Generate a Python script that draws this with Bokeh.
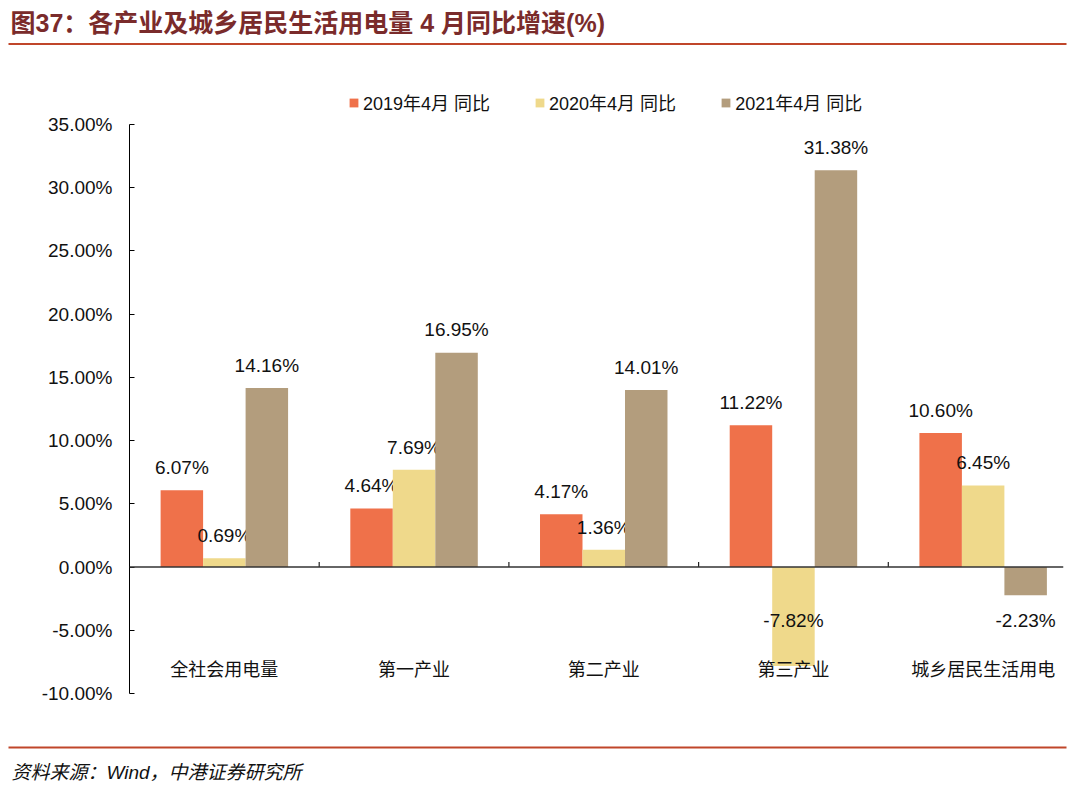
from bokeh.plotting import figure
from bokeh.layouts import column, row
from bokeh.models import (Range1d, FixedTicker, PrintfTickFormatter, Span,
                          Legend, LegendItem, ColumnDataSource)
from bokeh.core.properties import value
from bokeh.embed import file_html
from bokeh.resources import INLINE

categories = ["全社会用电量", "第一产业", "第二产业", "第三产业", "城乡居民生活用电"]
series_names = ["2019年4月 同比", "2020年4月 同比", "2021年4月 同比"]
v2019 = [6.07, 4.64, 4.17, 11.22, 10.60]
v2020 = [0.69, 7.69, 1.36, -7.82, 6.45]
v2021 = [14.16, 16.95, 14.01, 31.38, -2.23]
y_ticks = [-10, -5, 0, 5, 10, 15, 20, 25, 30, 35]
title_text = "图37：各产业及城乡居民生活用电量 4 月同比增速(%)"
source_text = "资料来源：Wind，中港证券研究所"

colors = ["#EF714A", "#EFD98B", "#B39D7D"]
LATIN = "Liberation Sans, Noto Sans CJK SC"
CJK = "Noto Sans CJK SC"

W = 1075
TOP_H, MAIN_H, BOT_H = 60, 670, 55
FL, FR = 129, 1063                 # main frame left/right (px)
Y35, YM10 = 124 - TOP_H, 693 - TOP_H  # pixel rows of 35% and -10% within main figure
px_per = (YM10 - Y35) / 45.0
y_top = 35 + Y35 / px_per
y_bot = -10 - (MAIN_H - YM10) / px_per
cat_px = 189.7
x_end = (FR - FL) / cat_px


def deco_fig(h):
    f = figure(width=W, height=h, output_backend="svg", toolbar_location=None,
               x_range=Range1d(0, W), y_range=Range1d(h, 0),
               x_axis_location=None, y_axis_location=None, min_border=0,
               min_border_left=0, min_border_right=0, min_border_top=0, min_border_bottom=0)
    f.outline_line_color = None
    f.grid.visible = False
    f.background_fill_color = "white"
    f.border_fill_color = "white"
    return f


# ---- top: title + rule
top = deco_fig(TOP_H)
top.text(x=[10], y=[22], text=[title_text], text_font=value(LATIN),
         text_font_size="25px", text_font_style="bold", text_color="#7A2B2B",
         text_baseline="middle", text_align="left")
top.segment(x0=[8], y0=[43.5], x1=[1066], y1=[43.5], line_color="#C0462A", line_width=2)

# ---- main chart
p = figure(width=W, height=MAIN_H, output_backend="svg", toolbar_location=None,
           x_range=Range1d(0, x_end), y_range=Range1d(y_bot, y_top),
           x_axis_location=None,
           min_border_left=FL, min_border_right=W - FR,
           min_border_top=0, min_border_bottom=0)
p.outline_line_color = None
p.grid.visible = False
p.background_fill_color = "white"
p.border_fill_color = "white"

ax = p.yaxis[0]
ax.ticker = FixedTicker(ticks=y_ticks)
ax.bounds = (min(y_ticks), max(y_ticks))
ax.formatter = PrintfTickFormatter(format="%.2f%%")
ax.major_tick_in = 5
ax.major_tick_out = 0
ax.minor_tick_line_color = None
ax.axis_line_color = "black"
ax.major_tick_line_color = "black"
ax.major_label_text_font = LATIN
ax.major_label_text_font_size = "19px"
ax.major_label_text_color = "#111111"
ax.major_label_standoff = 17

bw = 0.224
offsets = [-bw, 0.0, bw]
series = [v2019, v2020, v2021]
renderers = []
for vals, off, col in zip(series, offsets, colors):
    xs = [i + 0.5 + off for i in range(len(categories))]
    src = ColumnDataSource(dict(x=xs, top=vals,
                                ly=[v + 1.8 if v >= 0 else (v - 2.0 if v - 2.0 >= -6 else v + 3.6) for v in vals],
                                txt=["%.2f%%" % v for v in vals]))
    r = p.vbar(x="x", top="top", bottom=0, width=bw, source=src,
               fill_color=col, line_color=None)
    renderers.append(r)
    p.text(x="x", y="ly", text="txt", source=src, text_align="center",
           text_baseline="middle", text_font=value(LATIN),
           text_font_size="19px", text_color="#111111")

p.add_layout(Span(location=0, dimension="width", line_color="#333333", line_width=1.5))
p.segment(x0=[1, 2, 3, 4], y0=[0] * 4, x1=[1, 2, 3, 4], y1=[0.4] * 4,
          line_color="#222222", line_width=1.2)

p.text(x=[i + 0.5 for i in range(len(categories))], y=[-8.0] * len(categories),
       text=categories, text_align="center", text_baseline="middle",
       text_font=value(CJK), text_font_size="18px", text_color="#111111")

legend = Legend(items=[LegendItem(label=n, renderers=[r]) for n, r in zip(series_names, renderers)],
                orientation="horizontal", location=(219, MAIN_H - (115 - TOP_H)),
                glyph_width=11, glyph_height=11, label_standoff=4, spacing=44,
                padding=0, margin=0, border_line_color=None, background_fill_alpha=0,
                label_text_font=LATIN, label_text_font_size="18px",
                label_text_color="#111111", label_height=20)
p.add_layout(legend, "center")

# ---- bottom: rule + source
bot = deco_fig(BOT_H)
bot.segment(x0=[8], y0=[17], x1=[1066], y1=[17], line_color="#C0462A", line_width=2)
bot.text(x=[11], y=[42], text=[source_text], text_font=value(LATIN),
         text_font_size="19px", text_font_style="italic", text_color="#111111",
         text_baseline="middle", text_align="left")

layout = column(row(top), p, row(bot), spacing=0)
open("out.html", "w").write(file_html(layout, INLINE))
